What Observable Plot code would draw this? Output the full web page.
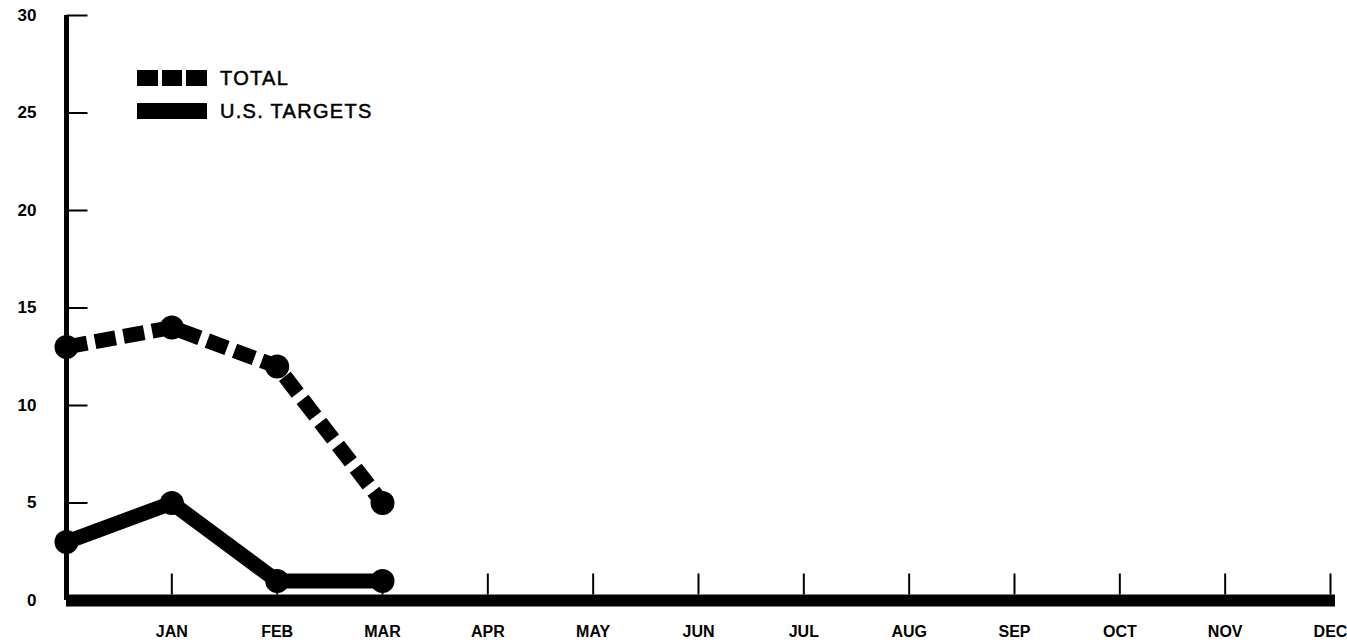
<!DOCTYPE html>
<html>
<head>
<meta charset="utf-8">
<script src="https://cdn.jsdelivr.net/npm/d3@7"></script>
<script src="https://cdn.jsdelivr.net/npm/@observablehq/plot@0.6"></script>
<style>
  html, body { margin: 0; padding: 0; background: #fff; }
  #wrap { position: relative; width: 1347px; height: 643px; }
  #legend { position: absolute; left: 137px; top: 68px; font-family: "Liberation Sans", Arial, sans-serif; font-size: 20px; letter-spacing: 1.3px; color: #000; -webkit-text-stroke: 0.5px #000; }
  .row { display: flex; align-items: center; height: 20px; margin-bottom: 13px; }
  .sw { width: 70px; height: 16px; margin-right: 13px; display: flex; gap: 4px; }
  .sq { flex: 1; background: #000; }
</style>
</head>
<body>
<div id="wrap">
  <div id="chart"></div>
  <div id="legend"></div>
</div>
<script>
const months = ["JAN","FEB","MAR","APR","MAY","JUN","JUL","AUG","SEP","OCT","NOV","DEC"];
const monthPos = [1,2,3,4,5,6,7,8,9,10,11,12];
const pointPos = [0,1,2,3];
const totalValues = [13,14,12,5];
const usValues = [3,5,1,1];
const yTicks = [0,5,10,15,20,25,30];
const seriesNames = ["TOTAL","U.S. TARGETS"];

const total = pointPos.map((x, i) => ({x, y: totalValues[i]}));
const us = pointPos.map((x, i) => ({x, y: usValues[i]}));

const yTickSymbol = {draw(ctx) { ctx.moveTo(0, 0); ctx.lineTo(21, 0); }};
const xTickSymbol = {draw(ctx) { ctx.moveTo(0, -6); ctx.lineTo(0, -27); }};

const chart = Plot.plot({
  width: 1347,
  height: 643,
  marginLeft: 66,
  marginRight: 17,
  marginTop: 15,
  marginBottom: 43,
  style: {fontFamily: "Liberation Sans, Arial, sans-serif", fontWeight: "bold", fontSize: "16px", background: "#fff"},
  x: {domain: [0, 12], axis: null},
  y: {domain: [0, 30], axis: null},
  marks: [
    Plot.axisY({ticks: yTicks, tickSize: 0, tickPadding: 30, label: null, fontSize: 17, fontWeight: "bold"}),
    Plot.axisX({ticks: monthPos, tickSize: 0, tickPadding: 25, label: null, tickFormat: i => months[i - 1], fontSize: 16, fontWeight: "bold"}),
    Plot.dot(yTicks.filter(d => d > 0), {x: 0, y: d => d, symbol: yTickSymbol, fill: "none", stroke: "black", strokeWidth: 2}),
    Plot.dot(monthPos, {x: d => d, y: 0, symbol: xTickSymbol, fill: "none", stroke: "black", strokeWidth: 2}),
    Plot.ruleX([0], {y1: 0, y2: 30, stroke: "black", strokeWidth: 5}),
    Plot.ruleY([0], {stroke: "black", strokeWidth: 12, insetRight: -5}),
    Plot.line(total, {x: "x", y: "y", stroke: "black", strokeWidth: 15, strokeDasharray: "21,8", strokeLinecap: "butt", strokeLinejoin: "miter"}),
    Plot.line(us, {x: "x", y: "y", stroke: "black", strokeWidth: 15}),
    Plot.dot(total, {x: "x", y: "y", r: 12, fill: "black"}),
    Plot.dot(us, {x: "x", y: "y", r: 12, fill: "black"})
  ]
});
document.getElementById("chart").appendChild(chart);

const legend = document.getElementById("legend");
seriesNames.forEach((name, i) => {
  const row = document.createElement("div");
  row.className = "row";
  const sw = document.createElement("div");
  sw.className = "sw";
  const n = i === 0 ? 3 : 1;
  for (let k = 0; k < n; k++) {
    const sq = document.createElement("div");
    sq.className = "sq";
    sw.appendChild(sq);
  }
  row.appendChild(sw);
  const label = document.createElement("span");
  label.textContent = name;
  row.appendChild(label);
  legend.appendChild(row);
});
</script>
</body>
</html>
